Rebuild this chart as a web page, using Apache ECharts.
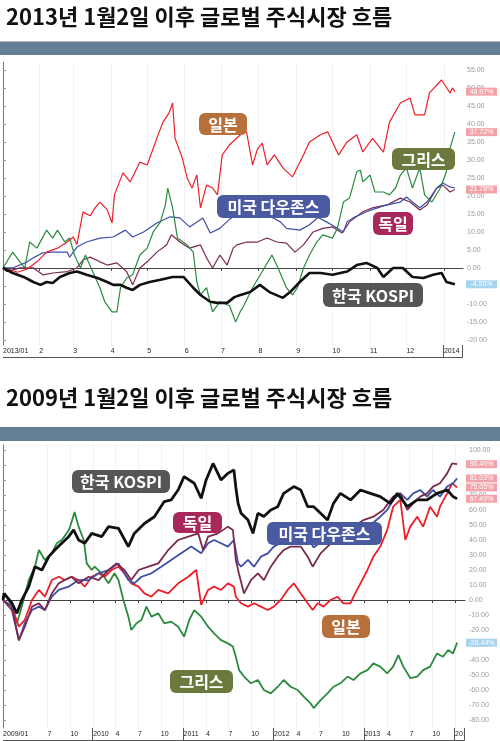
<!DOCTYPE html>
<html><head><meta charset="utf-8">
<script src="https://cdn.jsdelivr.net/npm/echarts@6/dist/echarts.min.js"></script>
<style>html,body{margin:0;padding:0;background:#fff}#c{width:500px;height:741px}</style>
</head><body><div id="c"></div>
<script>
// ---------- text ----------
const title2013 = '2013년 1월2일 이후 글로벌 주식시장 흐름';
const title2009 = '2009년 1월2일 이후 글로벌 주식시장 흐름';
const seriesNames = ['일본', '그리스', '미국 다우존스', '독일', '한국 KOSPI'];

// ---------- chart 1 : days since 2013-01-02, % change ----------
const ticks2013Days = [0, 30, 58, 89, 119, 150, 180, 211, 242, 272, 303, 333, 364];
const ticks2013Labels = ['2013/01', '2', '3', '4', '5', '6', '7', '8', '9', '10', '11', '12', '2014'];
const yTicks2013 = [-20, -15, -10, -5, 0, 5, 10, 15, 20, 25, 30, 35, 40, 45, 50, 55];
const japan2013 = [[0,0],[6,-0.5],[12,-1.2],[20,-0.3],[28,1.7],[36,4.4],[45,5.5],[53,7.2],[58,8.6],[61,6.5],[66,15.5],[72,14.5],[76,16.7],[80,18.3],[86,16.2],[90,12.5],[92,20.3],[99,26.4],[105,23.9],[113,29.4],[119,28.6],[127,36],[132,40.5],[137,43],[140,45.8],[142,36],[148,30.5],[152,25],[156,22.2],[160,25.8],[163,16.7],[168,23],[173,22.2],[177,20.3],[181,31.4],[187,34.2],[196,37],[201,37.8],[206,28.6],[210,33],[214,34.7],[218,28.6],[224,31.4],[231,27.8],[239,25.3],[248,31.4],[253,35],[262,37],[268,37.8],[277,31.4],[284,35],[292,37],[297,32.2],[305,36],[314,32.2],[319,40.5],[328,45.8],[336,47.2],[340,42.5],[348,42.5],[352,48.6],[362,52.2],[369,48.6],[371,50],[373,48.97]];
const greece2013 = [[0,0],[8,4.4],[14,1.7],[18,0],[22,7.2],[28,5.5],[36,10.5],[41,8.3],[45,10.5],[51,7.2],[55,8.3],[59,3.6],[64,0],[68,3.6],[74,-1],[80,-5.5],[84,-9.4],[90,-12.2],[94,-12.2],[97,-5.5],[102,-2.8],[107,-1.9],[113,3.6],[119,5.5],[124,10],[130,12.8],[134,17.5],[136,22.2],[140,16.7],[144,8.3],[152,6.4],[157,4.4],[160,-3.9],[163,-7.5],[168,-5.5],[173,-12.2],[179,-9.4],[187,-10.5],[192,-15],[196,-12],[198,-11],[206,-5.5],[214,-1],[222,3.6],[227,0],[234,-5.5],[239,-7.5],[243,-5.5],[248,0],[253,3.6],[259,7.2],[264,9.2],[272,8.3],[276,11],[281,18.3],[286,19.4],[292,26.7],[295,27.2],[297,23.9],[303,25.8],[307,21.1],[314,21.1],[319,20.3],[324,22.2],[328,25.8],[333,27.8],[338,22.2],[344,27.8],[348,20.3],[354,18.3],[361,22.2],[366,26.7],[369,33.3],[373,37.72]];
const usa2013 = [[0,0],[8,0],[20,1.7],[25,2.8],[33,4.2],[41,4.4],[53,4.4],[55,3],[61,5.8],[69,7.2],[80,8.3],[91,8.6],[101,10.5],[107,8.6],[116,10],[127,12.5],[138,14.2],[146,13.9],[154,11.4],[165,13.9],[171,9.7],[179,11],[187,13.5],[196,15.5],[206,16.5],[214,15],[222,14],[229,12.8],[234,11],[245,10.5],[253,12],[260,14],[267,12.8],[276,11],[281,10],[284,12.8],[289,13.9],[300,15.6],[309,16.7],[317,17.5],[328,18.3],[333,19.7],[338,18.3],[344,16.7],[350,18.3],[358,22.2],[363,23.6],[369,22.5],[373,22.2]];
const germany2013 = [[0,0],[3,-1],[14,0],[25,0],[33,-1.9],[41,-1.4],[53,-1],[61,0],[66,2.2],[72,3],[80,1.7],[86,0.8],[94,1.4],[102,-1],[107,-4.7],[113,0],[119,1.7],[127,4.4],[135,6.4],[139,9.2],[146,7.2],[154,5.5],[163,6.4],[168,2.8],[173,0],[179,3.6],[185,0.8],[190,5.5],[193,6.4],[201,7.2],[210,7.2],[218,8.3],[226,7.2],[234,6.9],[241,4.4],[248,6.4],[256,10],[264,11],[272,11.4],[280,9.7],[286,12.8],[297,15.6],[305,16.7],[317,17.5],[328,19.4],[336,18.3],[344,16.1],[350,17.5],[358,22.2],[363,23],[369,21.1],[373,21.78]];
const kospi2013 = [[0,0],[8,-1.4],[17,-2.5],[25,-3.9],[31,-4.7],[36,-3.9],[41,-4.2],[47,-2.5],[55,-1.4],[61,-1],[69,-1.9],[78,-2.8],[86,-3.9],[91,-4.7],[97,-4.7],[102,-5.5],[107,-6.1],[113,-4.7],[121,-3.9],[130,-3.3],[140,-2.5],[149,-2.5],[157,-5.5],[163,-7.5],[171,-9.4],[177,-9.7],[185,-9.7],[191,-8.1],[196,-7.5],[204,-6.7],[212,-4.7],[220,-6.7],[231,-8.3],[237,-6.7],[245,-3.9],[253,-1.4],[262,-1.4],[272,-1.9],[284,-1],[292,0.8],[300,1.4],[309,0],[314,-2.5],[322,0],[330,0],[338,-2.5],[347,-2.8],[355,-1.9],[362,-1.4],[366,-3.9],[373,-4.55]];
const endPct2013 = [48.97, 37.72, 21.78, -4.55];

// ---------- chart 2 : days since 2009-01-02, % change ----------
const ticks2009Days = [0, 180, 272, 364, 454, 545, 637, 729, 819, 910, 1002, 1094, 1185, 1276, 1368, 1460, 1550, 1641, 1733, 1825];
const ticks2009Labels = ['2009/01', '7', '10', '2010', '4', '7', '10', '2011', '4', '7', '10', '2012', '4', '7', '10', '2013', '4', '7', '10', '2014'];
const yTicks2009 = [-80, -70, -60, -50, -40, -30, -20, -10, 0, 10, 20, 30, 40, 50, 60, 70, 80, 90, 100];
const kospi2009 = [[0,0],[4,4.4],[36,-2],[56,-8.9],[76,0],[104,8.9],[129,22.2],[157,20],[185,28.9],[209,33.3],[237,37.8],[265,42.2],[285,46.7],[305,40],[330,37.8],[358,44.4],[398,42.2],[426,48.9],[466,47.8],[506,35.6],[530,44.4],[571,51],[611,55.5],[651,65.6],[679,66.7],[707,73.3],[731,82.2],[772,77.8],[800,67.8],[820,80],[848,91],[880,80],[908,84.4],[932,86.7],[940,75],[949,64.4],[961,57.8],[989,53.3],[1009,44.4],[1029,57.8],[1053,55.6],[1081,60],[1109,62.2],[1133,71.1],[1174,75.6],[1202,73.3],[1230,62.2],[1254,62.2],[1282,57.8],[1310,53.3],[1334,64.4],[1362,71.1],[1403,66.7],[1443,73.3],[1483,71.1],[1523,68.9],[1563,64.4],[1592,71.1],[1632,62.2],[1672,66.7],[1712,66.7],[1752,71.1],[1793,73.3],[1817,68.9],[1833,67.49]];
const greece2009 = [[0,0],[8,4.4],[36,-4.4],[56,-15.5],[76,-4.4],[104,13.3],[129,22.2],[145,33.3],[169,26.7],[197,31.1],[217,37.8],[237,40],[257,44.4],[269,47.8],[289,58.7],[305,48.9],[326,40],[338,24.4],[358,20],[370,22.2],[398,17.8],[426,11.1],[450,17.8],[466,13.3],[486,0],[506,-11.1],[518,-20],[539,-15.5],[559,-13.3],[579,-4.4],[599,-11.1],[627,-8.9],[651,-15.5],[679,-14.4],[707,-17.8],[731,-24.4],[752,-13.3],[772,-6.7],[800,-11.1],[828,-17.8],[852,-22.2],[880,-26.7],[908,-28.9],[928,-31],[940,-38],[953,-46.7],[973,-51],[1001,-55.5],[1029,-53.3],[1053,-60],[1081,-62.2],[1109,-57.8],[1133,-53.3],[1161,-57.8],[1190,-60],[1214,-64.4],[1242,-68.9],[1254,-72],[1282,-66.7],[1310,-62.2],[1334,-57.8],[1362,-55.5],[1391,-51],[1415,-53.3],[1443,-48.9],[1471,-46.7],[1495,-42.2],[1523,-44.4],[1551,-48.9],[1575,-44.4],[1596,-36.7],[1616,-44.4],[1644,-52],[1672,-51],[1696,-46.7],[1724,-44.4],[1752,-35.6],[1776,-37.8],[1797,-33.3],[1817,-35.6],[1833,-28.44]];
const japan2009 = [[0,0],[36,-4.4],[64,-17.8],[88,-13.3],[117,0],[145,6.7],[169,2.2],[197,13.3],[225,15.5],[249,13.3],[277,15.5],[305,13.3],[330,8.9],[358,15.5],[386,17.8],[410,15.5],[438,20],[466,22.2],[490,17.8],[518,11.1],[547,8.9],[571,4.4],[599,2.2],[627,6.7],[667,4.4],[707,11.1],[748,15.5],[780,20],[800,-3.3],[828,6.7],[852,8.9],[880,6.7],[908,11.1],[932,8.9],[940,2.2],[961,-2.2],[989,-4.4],[1013,-2.2],[1041,-4.4],[1069,-6.7],[1093,-4.4],[1121,0],[1149,6.7],[1174,11.1],[1202,4.4],[1230,-2.2],[1250,-6.7],[1270,-2.2],[1294,-4.4],[1322,0],[1350,2.2],[1374,-2.2],[1403,-2.2],[1415,2.2],[1443,11.1],[1471,20],[1495,28.9],[1523,35.6],[1551,46.7],[1575,62.2],[1604,66.7],[1624,40],[1644,48.9],[1672,55.5],[1696,48.9],[1724,62.2],[1752,55.5],[1764,62.2],[1793,71.1],[1813,77.8],[1833,75.05]];
const usa2009 = [[0,0],[36,-4.4],[64,-27],[88,-15.5],[117,-6.7],[145,-4.4],[169,-6.7],[197,2.2],[225,6.7],[265,8.9],[305,13.3],[346,13.3],[386,17.8],[426,20],[466,24.4],[506,13.3],[530,11.1],[559,15.5],[599,17.8],[639,22.2],[679,26.7],[719,31.1],[760,35.6],[800,31.1],[828,37.8],[852,40],[880,37.8],[908,35.6],[932,40],[949,24.4],[961,22.2],[989,26.7],[1013,22.2],[1041,28.9],[1069,31.1],[1093,35.6],[1121,38],[1161,42],[1202,46],[1230,42],[1254,35],[1294,40],[1334,46],[1374,44],[1415,40],[1455,44],[1483,50],[1523,55.5],[1551,60],[1575,66.7],[1604,71.1],[1632,66.7],[1656,71.1],[1684,73.3],[1712,68.9],[1736,73.3],[1764,68.9],[1793,75.6],[1817,77.8],[1833,81.03]];
const germany2009 = [[0,0],[36,-6.7],[64,-26.7],[88,-17.8],[117,-4.4],[145,-2.2],[169,-6.7],[197,4.4],[225,11.1],[249,13.3],[277,15.5],[305,11.1],[346,15.5],[386,13.3],[426,20],[458,24.4],[490,20],[518,13.3],[547,20],[587,22.2],[627,24.4],[667,33.3],[707,40],[748,42.2],[788,44.4],[808,33.3],[828,42.2],[868,44.4],[908,48.9],[928,46.7],[940,26.7],[952,17.8],[973,4.4],[1001,13.3],[1029,17.8],[1053,13.3],[1081,22.2],[1109,28.9],[1133,33.3],[1161,35.6],[1202,35.6],[1230,28.9],[1250,22.2],[1282,31.1],[1310,35.6],[1350,42],[1391,46],[1415,48.9],[1455,53.3],[1495,55.5],[1535,60],[1575,68.9],[1604,71.1],[1632,60],[1656,64.4],[1684,68.9],[1712,71.1],[1736,75.6],[1764,77.8],[1793,84.4],[1813,91],[1833,90.49]];
const endPct2009 = [90.49, 81.03, 75.05, 67.49, -28.44];

// ---------- styles ----------
const C = { japan: '#ec1f2a', greece: '#2b8a3e', usa: '#3f4ea6', germany: '#7b2a4f', kospi: '#111111' };
const KR = '"Noto Sans CJK KR", "Noto Sans", sans-serif';
const NUM = '"Liberation Sans", Arial, sans-serif';

const chart = echarts.init(document.getElementById('c'), null, { renderer: 'canvas' });

function xAxisFor(gi, days, labels, max) {
  const tickDays = days.filter(d => d > 0);
  return {
    type: 'value', gridIndex: gi, min: 0, max: max,
    axisLine: { show: true, lineStyle: { color: '#444', width: 1 } },
    axisTick: { show: true, length: 3, inside: false, customValues: tickDays, lineStyle: { color: '#444' } },
    axisLabel: {
      customValues: days, align: 'left', margin: 3, fontSize: 7, color: '#222', fontFamily: NUM,
      formatter: v => { const i = days.indexOf(v); return i >= 0 ? labels[i] : ''; }
    },
    splitLine: { show: true, lineStyle: { color: '#e6e6e6', type: 'dotted', width: 1 } }
  };
}
function yAxisFor(gi, ticks, min, max) {
  return {
    type: 'value', gridIndex: gi, position: 'right', min: min, max: max,
    axisLine: { show: true, lineStyle: { color: '#777', width: 1 } },
    axisTick: { show: true, length: 3, customValues: ticks, lineStyle: { color: '#999' } },
    axisLabel: { customValues: ticks, margin: 4, fontSize: 7, color: '#9a9a9a', fontFamily: NUM,
      formatter: v => v.toFixed(2) },
    splitLine: { show: false }
  };
}
function line(name, data, color, width, xi) {
  return { name, type: 'line', xAxisIndex: xi, yAxisIndex: xi, data, showSymbol: false,
    lineStyle: { color, width }, itemStyle: { color }, animation: false, silent: true };
}

chart.setOption({
  animation: false,
  backgroundColor: '#fff',
  title: [
    { text: title2013, left: 1, top: 1, textStyle: { fontSize: 22, fontWeight: 'bold', fontFamily: KR, color: '#111' } },
    { text: title2009, left: 1, top: 382, textStyle: { fontSize: 22, fontWeight: 'bold', fontFamily: KR, color: '#111' } }
  ],
  grid: [
    { left: 3, right: 37, top: 62, height: 283, containLabel: false },
    { left: 1, right: 35, top: 445, height: 283, containLabel: false }
  ],
  xAxis: [
    xAxisFor(0, ticks2013Days, ticks2013Labels, 379.7),
    xAxisFor(1, ticks2009Days, ticks2009Labels, 1865)
  ],
  yAxis: [
    yAxisFor(0, yTicks2013, -21.4, 57.2),
    yAxisFor(1, yTicks2009, -85.3, 103.3)
  ],
  series: [
    line(seriesNames[3], germany2013, C.germany, 1.2, 0),
    line(seriesNames[2], usa2013, C.usa, 1.2, 0),
    line(seriesNames[1], greece2013, C.greece, 1.2, 0),
    line(seriesNames[0], japan2013, C.japan, 1.2, 0),
    line(seriesNames[4], kospi2013, C.kospi, 2.6, 0),
    line(seriesNames[1], greece2009, C.greece, 1.8, 1),
    line(seriesNames[0], japan2009, C.japan, 1.8, 1),
    line(seriesNames[2], usa2009, C.usa, 1.8, 1),
    line(seriesNames[3], germany2009, C.germany, 1.8, 1),
    line(seriesNames[4], kospi2009, C.kospi, 2.8, 1)
  ]
});

// ---------- decorations positioned through the axes ----------
const g = [];
g.push({ type: 'rect', z: 100, shape: { x: 0, y: 41.5, width: 500, height: 13.5 }, style: { fill: '#647f95' } });
g.push({ type: 'rect', z: 100, shape: { x: 0, y: 427, width: 500, height: 14 }, style: { fill: '#647f95' } });

function axisBox(gi, yearDays) {
  const left = chart.convertToPixel({ xAxisIndex: gi }, 0);
  const right = gi === 0 ? 462.5 : 464.5;
  const yTop = chart.convertToPixel({ yAxisIndex: gi }, gi === 0 ? -21.4 : -85.3);
  const yBot = Math.round(yTop + 12) + 0.5;
  g.push({ type: 'line', z: 100, shape: { x1: left, y1: yBot, x2: right, y2: yBot }, style: { stroke: '#555', lineWidth: 1 } });
  g.push({ type: 'line', z: 100, shape: { x1: right, y1: yTop, x2: right, y2: yBot }, style: { stroke: '#555', lineWidth: 1 } });
  yearDays.forEach(d => {
    const x = Math.round(chart.convertToPixel({ xAxisIndex: gi }, d)) - 0.5;
    g.push({ type: 'line', z: 100, shape: { x1: x, y1: yTop, x2: x, y2: yBot }, style: { stroke: '#555', lineWidth: 1 } });
  });
}
axisBox(0, [364]);
axisBox(1, [364, 729, 1094, 1460, 1825]);

// clip the last label of the lower axis at the box edge
g.push({ type: 'rect', shape: { x: 465, y: 729, width: 35, height: 12 }, style: { fill: '#fff' }, z: 100 });

function endTag(gi, v, color) {
  const y = chart.convertToPixel({ yAxisIndex: gi }, v);
  g.push({ type: 'rect', z: 100, shape: { x: 466, y: y - 4, width: 31, height: 8 }, style: { fill: color } });
  g.push({ type: 'text', z: 101, x: 481.5, y: y, style: { text: v.toFixed(2) + '%', fill: '#fff', fontSize: 7, fontFamily: NUM,
      align: 'center', verticalAlign: 'middle' } });
}
const pink = '#f2a3a9', sky = '#a7d3ef';
endPct2013.forEach(v => endTag(0, v, v < 0 ? sky : pink));
endPct2009.forEach(v => endTag(1, v, v < 0 ? sky : pink));

function tag(text, x, y, w, h, color) {
  g.push({ type: 'rect', z: 100, shape: { x, y, width: w, height: h, r: 6 }, style: { fill: color } });
  g.push({ type: 'text', z: 101, x: x + w / 2, y: y + h / 2 + 0.5, style: { text, fill: '#fff', fontSize: 16, fontWeight: 'bold',
      fontFamily: KR, align: 'center', verticalAlign: 'middle' } });
}
const TAGC = { japan: '#b8703b', greece: '#6b7a3c', usa: '#4a5aa1', germany: '#a8285c', kospi: '#565656' };
tag(seriesNames[0], 199, 113, 48, 22, TAGC.japan);
tag(seriesNames[1], 392, 148, 63, 22, TAGC.greece);
tag(seriesNames[2], 217, 195, 113, 23, TAGC.usa);
tag(seriesNames[3], 373, 212, 40, 23, TAGC.germany);
tag(seriesNames[4], 323, 283, 100, 24, TAGC.kospi);
tag(seriesNames[4], 72, 470, 98, 23, TAGC.kospi);
tag(seriesNames[3], 173, 512, 49, 21, TAGC.germany);
tag(seriesNames[1], 170, 670, 63, 23, TAGC.greece);
tag(seriesNames[2], 267, 522, 115, 23, TAGC.usa);
tag(seriesNames[0], 322, 615, 48, 23, TAGC.japan);

chart.setOption({ graphic: g });
</script>
</body></html>
